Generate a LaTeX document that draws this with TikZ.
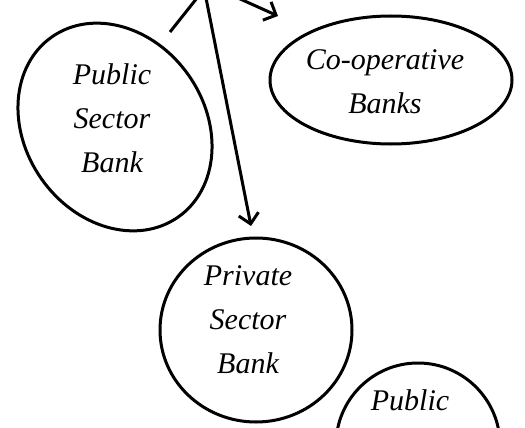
\documentclass[tikz,border=0pt]{standalone}
\usepackage{fontspec}
\setmainfont{Liberation Serif}
\usetikzlibrary{arrows.meta}
\begin{document}
\begin{tikzpicture}[x=1pt,y=-1pt,
  bubble/.style={draw,line width=3pt},
  lbl/.style={font=\itshape\fontsize{30}{44}\selectfont,align=center},
  link/.style={line width=3pt},
  arr/.style={line width=3pt,-{Straight Barb[length=10pt,width=20pt,line width=3pt]}}]
\useasboundingbox (0,0) rectangle (525,428);
\draw[bubble,rotate around={35:(115,127)}] (115,127) ellipse [x radius=90, y radius=110];
\draw[bubble] (391,80) ellipse [x radius=121, y radius=64];
\draw[bubble] (256,330) ellipse [x radius=96, y radius=92];
\draw[bubble] (418,445) ellipse [x radius=82, y radius=82];
\node[lbl] (pub) at (112,118) {Public\\Sector\\Bank};
\node[lbl] (coop) at (385,82) {Co-operative\\Banks};
\node[lbl] (priv) at (248,320) {Private\\Sector\\Bank};
\node[lbl,anchor=north] (pub2) at (410,386) {Public};
\coordinate (top1) at (197,-2);
\coordinate (pt1) at (170,32);
\coordinate (top2) at (206,-2);
\coordinate (tip2) at (251,226);
\coordinate (top3) at (238,-2);
\coordinate (tip3) at (278,16);
\draw[link] (pt1) -- (top1);
\draw[arr] (top2) -- (tip2);
\draw[arr] (top3) -- (tip3);
\end{tikzpicture}
\end{document}
